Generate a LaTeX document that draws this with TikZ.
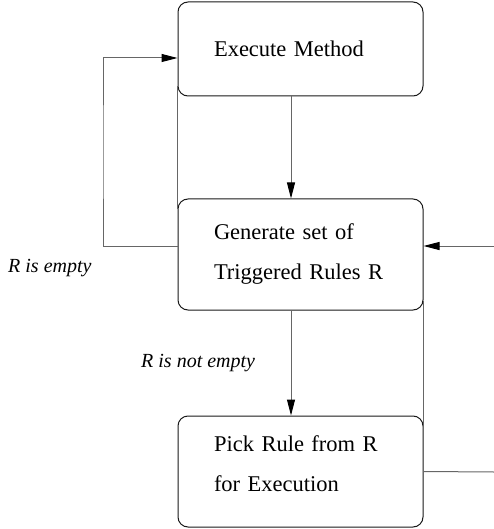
\documentclass[tikz,border=0pt]{standalone}
\usepackage{fontspec}
\setmainfont{Liberation Serif}
\usetikzlibrary{arrows.meta}

\tikzset{
  stepbox/.style={draw=black!90, line width=1pt, rounded corners=10pt, minimum width=245pt, minimum height=111pt,
    inner xsep=36pt, text width=173pt, align=left, font=\fontsize{22.5}{40}\selectfont},
  conn/.style={draw=black!60, line width=1pt},
  arr/.style={conn, -{Triangle[length=16pt,width=8pt,black]}},
  cond/.style={inner sep=0pt, font=\fontsize{20}{24}\selectfont\itshape}
}

\begin{document}
\begin{tikzpicture}[x=1pt, y=-1pt]
\useasboundingbox (0,0) rectangle (494,529);
\node (exec)[stepbox, minimum height=94pt] at (300.5,49) {Execute Method};
\node (gen)[stepbox] at (300.5,254.5) {Generate set of\\Triggered Rules R};
\node (pick)[stepbox] at (300.5,471.5) {Pick Rule from R\\for Execution\\[-24pt]\mbox{}};
\node (empty)[cond, anchor=west] at (8,268) {R is empty};
\node (notempty)[cond, anchor=west] at (141,363) {R is not empty};
\coordinate (loop) at (103,152);
\coordinate (rin) at (494,246);
\coordinate (rout) at (494,472);
\draw[arr] ([xshift=-9.5pt]exec.south) -- ([xshift=-9.5pt]gen.north);
\draw[arr] ([xshift=-9.5pt]gen.south) -- ([xshift=-9.5pt]pick.north);
\draw[arr] ([yshift=8.5pt]gen.west) -| (loop) |- ([yshift=-9pt]exec.west);
\draw[arr] (rin) -- ([yshift=8.5pt]gen.east);
\draw[conn] (pick.east) -- (rout);
\draw[conn] ([yshift=10pt]exec.south west) -- ([yshift=-10pt]gen.north west);
\draw[conn] ([yshift=10pt]gen.south east) -- ([yshift=-10pt]pick.north east);
\end{tikzpicture}
\end{document}
